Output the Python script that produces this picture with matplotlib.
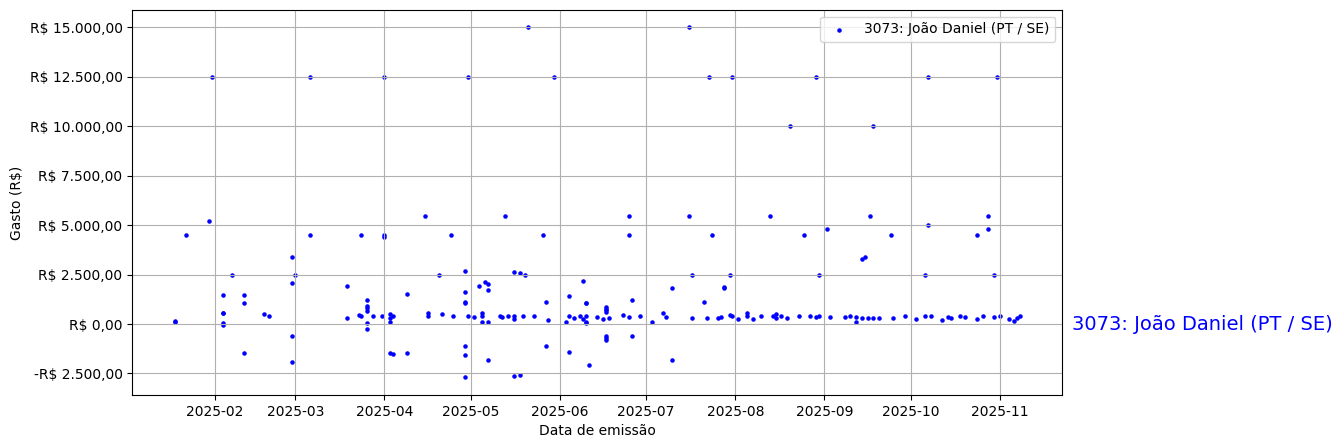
import matplotlib
matplotlib.use("Agg")
import pandas as pd
import matplotlib.pyplot as plt
from matplotlib.ticker import FuncFormatter

deputado = "3073: João Daniel (PT / SE)"

# data de emissão de cada nota (uma entrada por ponto)
datas = [
    # jan
    "2025-01-18", "2025-01-18", "2025-01-22", "2025-01-30", "2025-01-31",
    # fev
    "2025-02-04", "2025-02-04", "2025-02-04", "2025-02-04", "2025-02-04",
    "2025-02-07", "2025-02-11", "2025-02-11", "2025-02-11", "2025-02-18", "2025-02-20",
    "2025-02-28", "2025-02-28", "2025-02-28", "2025-02-28",
    # mar
    "2025-03-01", "2025-03-06", "2025-03-06", "2025-03-19", "2025-03-19", "2025-03-23",
    "2025-03-24", "2025-03-24", "2025-03-26", "2025-03-26", "2025-03-26", "2025-03-26",
    "2025-03-26", "2025-03-26", "2025-03-28", "2025-03-31",
    # abr
    "2025-04-01", "2025-04-01", "2025-04-01", "2025-04-03", "2025-04-03", "2025-04-03",
    "2025-04-03", "2025-04-04", "2025-04-04", "2025-04-09", "2025-04-09", "2025-04-15",
    "2025-04-16", "2025-04-16", "2025-04-20", "2025-04-21", "2025-04-24", "2025-04-25",
    "2025-04-29", "2025-04-29", "2025-04-29", "2025-04-29", "2025-04-29", "2025-04-29",
    "2025-04-29", "2025-04-30", "2025-04-30",
    # mai
    "2025-05-02", "2025-05-04", "2025-05-05", "2025-05-05", "2025-05-05", "2025-05-06",
    "2025-05-07", "2025-05-07", "2025-05-07", "2025-05-07", "2025-05-11", "2025-05-12",
    "2025-05-13", "2025-05-14", "2025-05-16", "2025-05-16", "2025-05-16", "2025-05-16",
    "2025-05-18", "2025-05-18", "2025-05-19", "2025-05-20", "2025-05-21", "2025-05-23",
    "2025-05-26", "2025-05-27", "2025-05-27", "2025-05-28", "2025-05-30",
    # jun
    "2025-06-03", "2025-06-04", "2025-06-04", "2025-06-04", "2025-06-06", "2025-06-08",
    "2025-06-09", "2025-06-09", "2025-06-10", "2025-06-10", "2025-06-10", "2025-06-10",
    "2025-06-10", "2025-06-11", "2025-06-14", "2025-06-16",
    "2025-06-17", "2025-06-17", "2025-06-17", "2025-06-17", "2025-06-17", "2025-06-17",
    "2025-06-17", "2025-06-18", "2025-06-23", "2025-06-25", "2025-06-25", "2025-06-25",
    "2025-06-26", "2025-06-26", "2025-06-29",
    # jul
    "2025-07-03", "2025-07-07", "2025-07-08", "2025-07-10", "2025-07-10",
    "2025-07-16", "2025-07-16", "2025-07-17", "2025-07-17", "2025-07-21", "2025-07-22",
    "2025-07-23", "2025-07-24", "2025-07-26", "2025-07-27", "2025-07-28", "2025-07-28",
    "2025-07-30", "2025-07-30", "2025-07-31", "2025-07-31",
    # ago
    "2025-08-02", "2025-08-05", "2025-08-05", "2025-08-07", "2025-08-10", "2025-08-13",
    "2025-08-14", "2025-08-15", "2025-08-15", "2025-08-17", "2025-08-19", "2025-08-20",
    "2025-08-23", "2025-08-25", "2025-08-27", "2025-08-29", "2025-08-29", "2025-08-30",
    "2025-08-30",
    # set
    "2025-09-02", "2025-09-03", "2025-09-08", "2025-09-10", "2025-09-12", "2025-09-12",
    "2025-09-14", "2025-09-14", "2025-09-15", "2025-09-16", "2025-09-17", "2025-09-18",
    "2025-09-18", "2025-09-20", "2025-09-24", "2025-09-25", "2025-09-29",
    # out
    "2025-10-03", "2025-10-06", "2025-10-06", "2025-10-07", "2025-10-07", "2025-10-08",
    "2025-10-12", "2025-10-14", "2025-10-15", "2025-10-18", "2025-10-20", "2025-10-24",
    "2025-10-24", "2025-10-26", "2025-10-28", "2025-10-28", "2025-10-30", "2025-10-30",
    "2025-10-31",
    # nov
    "2025-11-01", "2025-11-04", "2025-11-06", "2025-11-07", "2025-11-08",
]

# valor líquido de cada nota (R$)
valores = [
    # jan
    150, 90, 4500, 5200, 12500,
    # fev
    1450, 560, 540, 35, -65,
    2500, 1450, 1050, -1480, 490, 390,
    3370, 2055, -620, -1935,
    # mar
    2500, 4500, 12500, 290, 1900, 440,
    4500, 390, 1210, 925, 810, 655,
    35, -270, 390, 390,
    # abr
    4500, 4400, 12500, 490, 290, 85,
    -1450, 390, -1500, 1500, -1480, 5440,
    540, 390, 2500, 490, 4500, 390,
    2660, 1600, 1100, 1080, -1125, -1580,
    -2690, 390, 12500,
    # mai
    340, 1900, 540, 390, 85, 2120,
    2000, 1700, 85, -1835, 390, 340,
    5440, 390, 240, 390, 2610, -2640,
    2560, -2590, 390, 2500, 15000, 390,
    4500, 1095, -1125, 185, 12500,
    # jun
    85, 1400, 390, -1430, 290, 390,
    240, 2155, 390, 1060, 1040, 85,
    60, -2085, 340, 240,
    870, 770, 690, 590, -620, -720,
    -820, 290, 440, 340, 5440, 4500,
    1195, -620, 390,
    # jul
    85, 540, 340, 1800, -1835,
    5440, 15000, 2500, 290, 1095, 290,
    12500, 4500, 290, 340, 1850, 1800,
    2500, 440, 390, 12500,
    # ago
    240, 390, 540, 240, 390, 5440,
    390, 490, 290, 390, 290, 10000,
    390, 4500, 390, 340, 12500, 2500,
    390,
    # set
    4780, 340, 340, 390, 340, 85,
    290, 3270, 3370, 290, 5440, 290,
    10000, 290, 4500, 290, 390,
    # out
    240, 2500, 390, 5000, 12500, 390,
    185, 340, 290, 390, 340, 240,
    4500, 390, 5440, 4780, 2500, 340,
    12500,
    # nov
    390, 240, 135, 290, 390,
]


def formato_real(x, pos):
    s = f"{abs(x):,.2f}".replace(",", "X").replace(".", ",").replace("X", ".")
    return f"-R$ {s}" if x < 0 else f"R$ {s}"


datas = pd.to_datetime(datas)

fig, ax = plt.subplots(figsize=(12, 5))
ax.scatter(datas, valores, s=5, color="blue", label=deputado)

ax.yaxis.set_major_formatter(FuncFormatter(formato_real))
ax.set_xlabel("Data de emissão")
ax.set_ylabel("Gasto (R$)")
ax.grid(True)
ax.legend(loc="upper right")

# nome do deputado à direita, na altura do zero
ax.annotate(deputado, xy=(1.01, 0), xycoords=("axes fraction", "data"),
            fontsize=14, color="blue", va="center", ha="left")

fig.savefig("out.png", bbox_inches="tight")
